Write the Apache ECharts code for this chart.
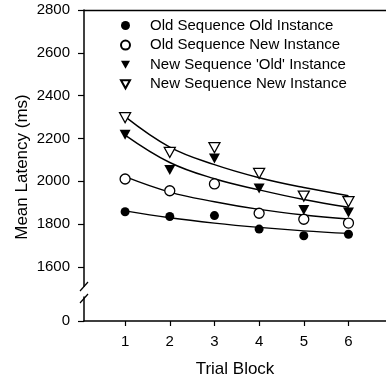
<!DOCTYPE html>
<html>
<head>
<meta charset="utf-8">
<script src="https://cdn.jsdelivr.net/npm/echarts@6/dist/echarts.min.js"></script>
<style>
  html, body { margin: 0; padding: 0; background: #fff; }
  #chart { width: 386px; height: 384px; }
</style>
</head>
<body>
<div id="chart"></div>
<script>
const blocks = [1, 2, 3, 4, 5, 6];
const yTicks = [1600, 1800, 2000, 2200, 2400, 2600, 2800];

// measured means
const oldSeqOldInst = [1858, 1836, 1840, 1777, 1746, 1753];
const oldSeqNewInst = [2011, 1956, 1988, 1851, 1823, 1805];
const newSeqOldInst = [2218, 2053, 2107, 1967, 1866, 1855];
const newSeqNewInst = [2297, 2135, 2157, 2037, 1931, 1905];

// fitted curves at each block
const fitOldOld = [1862, 1830, 1805, 1785, 1769, 1757];
const fitOldNew = [2022, 1950, 1905, 1869, 1843, 1824];
const fitNewOld = [2216, 2088, 2012, 1960, 1915, 1879];
const fitNewNew = [2302, 2160, 2078, 2017, 1971, 1933];

const FONT = 'Liberation Sans, Arial, Helvetica, sans-serif';
const INK = '#000';
const TRI_DOWN = 'path://M0,0 L10,0 L5,9 Z';
const X_MIN = 0.08;
const X_MAX = 6.84;

const pairs = (ys) => blocks.map((b, i) => [b, ys[i]]);
const plain = (v) => String(v);

const chart = echarts.init(document.getElementById('chart'), null, { renderer: 'canvas' });

function scatter(name, ys, symbol, size, filled) {
  return {
    name: name,
    type: 'scatter',
    xAxisIndex: 0,
    yAxisIndex: 0,
    data: pairs(ys),
    symbol: symbol,
    symbolSize: size,
    z: 5,
    itemStyle: {
      color: filled ? INK : '#fff',
      borderColor: INK,
      borderWidth: filled ? 0 : 1.3,
      opacity: 1,
    },
  };
}

function fitLine(ys) {
  return {
    type: 'line',
    xAxisIndex: 0,
    yAxisIndex: 0,
    data: pairs(ys),
    smooth: 0.4,
    showSymbol: false,
    silent: true,
    z: 2,
    lineStyle: { color: INK, width: 1.4 },
  };
}

const option = {
  animation: false,
  backgroundColor: '#fff',
  textStyle: { fontFamily: FONT, color: INK },
  grid: [
    { left: 84, right: 0, top: 10, height: 276.3 },
    { left: 84, right: 0, top: 297, height: 24 },
  ],
  xAxis: [
    {
      type: 'value', gridIndex: 0, position: 'top', min: X_MIN, max: X_MAX,
      axisLine: { show: true, onZero: false, lineStyle: { color: INK, width: 1.3 } },
      axisTick: { show: false }, axisLabel: { show: false }, splitLine: { show: false },
    },
    {
      type: 'value', gridIndex: 1, position: 'bottom', min: X_MIN, max: X_MAX,
      name: 'Trial Block', nameLocation: 'middle', nameGap: 40,
      nameTextStyle: { fontFamily: FONT, fontSize: 17, color: INK },
      axisLine: { show: true, onZero: false, lineStyle: { color: INK, width: 1.5 } },
      axisTick: { show: true, inside: false, length: 5, customValues: blocks, lineStyle: { color: INK, width: 1.2 } },
      axisLabel: { show: true, margin: 13, customValues: blocks, formatter: plain, fontFamily: FONT, fontSize: 15, color: INK },
      splitLine: { show: false },
    },
  ],
  yAxis: [
    {
      type: 'value', gridIndex: 0, min: 1510, max: 2800,
      axisLine: { show: true, onZero: false, lineStyle: { color: INK, width: 1.5 } },
      axisTick: { show: true, length: 6, customValues: yTicks, lineStyle: { color: INK, width: 1.2 } },
      axisLabel: { show: true, margin: 14, customValues: yTicks, formatter: plain, fontFamily: FONT, fontSize: 15, color: INK },
      splitLine: { show: false },
    },
    {
      type: 'value', gridIndex: 1, min: 0, max: 100,
      axisLine: { show: true, onZero: false, lineStyle: { color: INK, width: 1.5 } },
      axisTick: { show: true, length: 6, customValues: [0], lineStyle: { color: INK, width: 1.2 } },
      axisLabel: { show: true, margin: 14, customValues: [0], formatter: plain, fontFamily: FONT, fontSize: 15, color: INK },
      splitLine: { show: false },
    },
  ],
  legend: {
    orient: 'vertical',
    left: 115,
    top: 13,
    itemWidth: 9,
    itemHeight: 9,
    itemGap: 4.6,
    selectedMode: false,
    data: [
      'Old Sequence Old Instance',
      'Old Sequence New Instance',
      "New Sequence 'Old' Instance",
      'New Sequence New Instance',
    ],
    textStyle: { fontFamily: FONT, fontSize: 15, lineHeight: 15, color: INK, padding: [0, 0, 0, 15] },
  },
  graphic: [
    {
      type: 'text', x: 22, y: 167, rotation: Math.PI / 2,
      style: { text: 'Mean Latency (ms)', font: '17px ' + FONT, fill: INK, align: 'center', verticalAlign: 'middle' },
    },
    // axis break marks
    { type: 'line', shape: { x1: 80, y1: 291, x2: 88, y2: 282 }, style: { stroke: INK, lineWidth: 1.2 } },
    { type: 'line', shape: { x1: 80, y1: 303, x2: 88, y2: 294 }, style: { stroke: INK, lineWidth: 1.2 } },
  ],
  series: [
    fitLine(fitOldOld),
    fitLine(fitOldNew),
    fitLine(fitNewOld),
    fitLine(fitNewNew),
    scatter('Old Sequence Old Instance', oldSeqOldInst, 'circle', 9, true),
    scatter('Old Sequence New Instance', oldSeqNewInst, 'circle', 10, false),
    scatter("New Sequence 'Old' Instance", newSeqOldInst, TRI_DOWN, [11, 10], true),
    scatter('New Sequence New Instance', newSeqNewInst, TRI_DOWN, [11, 10], false),
  ],
};

chart.setOption(option);
</script>
</body>
</html>
